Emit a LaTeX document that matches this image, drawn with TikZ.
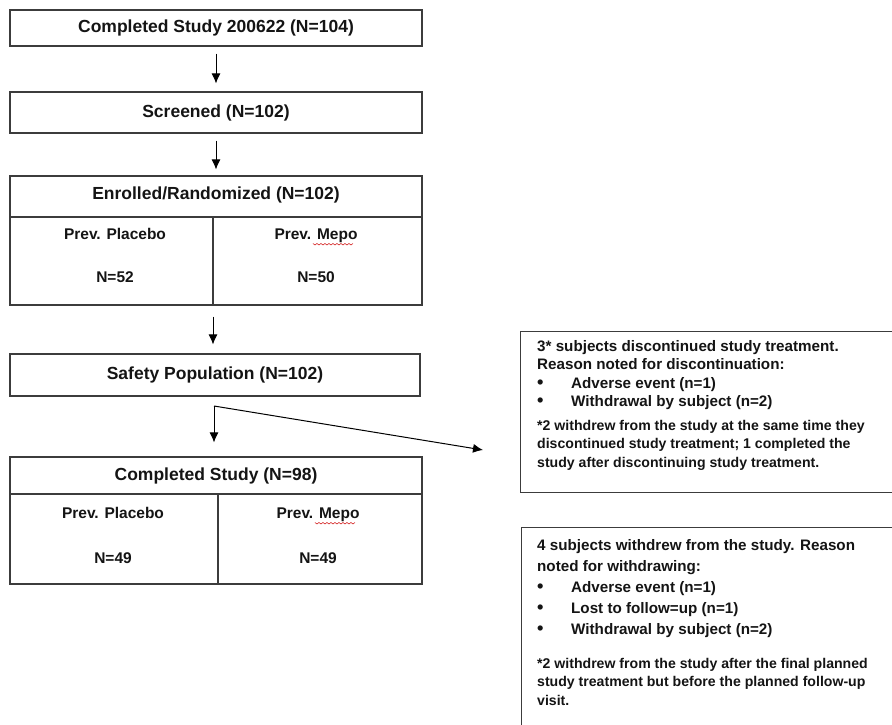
\documentclass[tikz,border=0pt]{standalone}
\usepackage{fontspec}
\setmainfont{Liberation Sans}
\usetikzlibrary{arrows.meta}
\definecolor{boxc}{HTML}{3C3C3C}
\definecolor{txtc}{HTML}{141414}
\newcommand{\bul}{\makebox[34pt][l]{\scalebox{1.2}{\textbullet}}}
\begin{document}
\begin{tikzpicture}[x=1pt,y=-1pt,
  box/.style={draw=boxc, line width=1.1pt, inner sep=0pt, rectangle, text=txtc},
  divline/.style={draw=boxc, line width=1.1pt},
  arr/.style={-{Latex[length=10pt,width=9pt]}, line width=1pt, draw=black},
  mainfont/.style={font=\fontsize{17.5}{20}\selectfont\bfseries, text=txtc},
  subfont/.style={font=\fontsize{15.5}{18}\selectfont\bfseries, text=txtc, anchor=base},
  notefont/.style={text=txtc, align=left, inner sep=0pt, anchor=north west},
  headfont/.style={font=\fontsize{15.2}{18.4}\selectfont\bfseries},
  footfont/.style={font=\fontsize{14.1}{18.5}\selectfont\bfseries},
  squig/.style={draw=red!80!black, line width=0.5pt}
]
\useasboundingbox (0,0) rectangle (892,725);

% Box 1
\node[box, mainfont, minimum width=412pt, minimum height=36pt] (b1) at (216,28) {Completed Study 200622 (N=104)};
% Box 2
\node[box, mainfont, minimum width=412pt, minimum height=41pt] (b2) at (216,112.5) {Screened (N=102)};
% Box 3 Enrolled
\node[box, minimum width=412pt, minimum height=129pt] (enr) at (216,240.5) {};
\draw[divline] (10,217) -- (422,217);
\draw[divline] (213,217) -- (213,305);
\node[mainfont] (enrt) at (216,195) {Enrolled/Randomized (N=102)};
\node[subfont] (e1a) at (115,239) {Prev. Placebo};
\node[subfont] (e1b) at (115,282) {N=52};
\node[subfont] (e2a) at (316,239) {Prev. Mepo};
\node[subfont] (e2b) at (316,282) {N=50};
% Box 4 Safety
\node[box, mainfont, minimum width=410pt, minimum height=42pt] (saf) at (215,375) {Safety Population (N=102)};
% Box 5 Completed
\node[box, minimum width=412pt, minimum height=127pt] (comp) at (216,520.5) {};
\draw[divline] (10,494) -- (422,494);
\draw[divline] (218,494) -- (218,584);
\node[mainfont] (compt) at (216,476) {Completed Study (N=98)};
\node[subfont] (c1a) at (113,518) {Prev. Placebo};
\node[subfont] (c1b) at (113,563) {N=49};
\node[subfont] (c2a) at (318,518) {Prev. Mepo};
\node[subfont] (c2b) at (318,563) {N=49};

% spell-check squiggles under "Mepo"
\foreach \n in {e2a,c2a}{
  \draw[squig] (\n.base west) ++(42,4.5) -- ++(2,1.5) -- ++(2,-1.5) -- ++(2,1.5) -- ++(2,-1.5) -- ++(2,1.5) -- ++(2,-1.5) -- ++(2,1.5) -- ++(2,-1.5) -- ++(2,1.5) -- ++(2,-1.5) -- ++(2,1.5) -- ++(2,-1.5) -- ++(2,1.5) -- ++(2,-1.5) -- ++(2,1.5) -- ++(2,-1.5) -- ++(2,1.5) -- ++(2,-1.5) -- ++(2,1.5) -- ++(2,-1.5);
}

% Right boxes
\node[box, minimum width=380pt, minimum height=161pt, anchor=north west] (r1) at (520,331) {};
\node[box, minimum width=380pt, minimum height=220pt, anchor=north west] (r2) at (521,527) {};

\node[notefont, headfont] (r1t) at (537,340) {3* subjects discontinued study treatment.\\
Reason noted for discontinuation:\\
\bul Adverse event (n=1)\\
\bul Withdrawal by subject (n=2)};
\node[notefont, footfont] (r1n) at (537,420) {*2 withdrew from the study at the same time they\\
discontinued study treatment; 1 completed the\\
study after discontinuing study treatment.};

\node[notefont, headfont, font=\fontsize{15.2}{21}\selectfont\bfseries] (r2t) at (537,539) {4 subjects withdrew from the study. Reason\\
noted for withdrawing:\\
\bul Adverse event (n=1)\\
\bul Lost to follow=up (n=1)\\
\bul Withdrawal by subject (n=2)};
\node[notefont, footfont] (r2n) at (537,658) {*2 withdrew from the study after the final planned\\
study treatment but before the planned follow-up\\
visit.};

% Arrows
\draw[arr, shorten <=7pt, shorten >=8pt] (b1.south) -- (b2.north);
\draw[arr, shorten <=7pt, shorten >=6pt] (b2.south) -- (b2.south |- enr.north);
\draw[arr, shorten <=11pt, shorten >=9pt] (enr.south -| 213,0) -- (saf.north -| 213,0);
\coordinate (split) at (214,406);
\coordinate (sideend) at (483,450);
\draw[arr, shorten >=14pt] (split) -- (split |- comp.north);
\draw[arr] (split) -- (sideend);
\end{tikzpicture}
\end{document}
